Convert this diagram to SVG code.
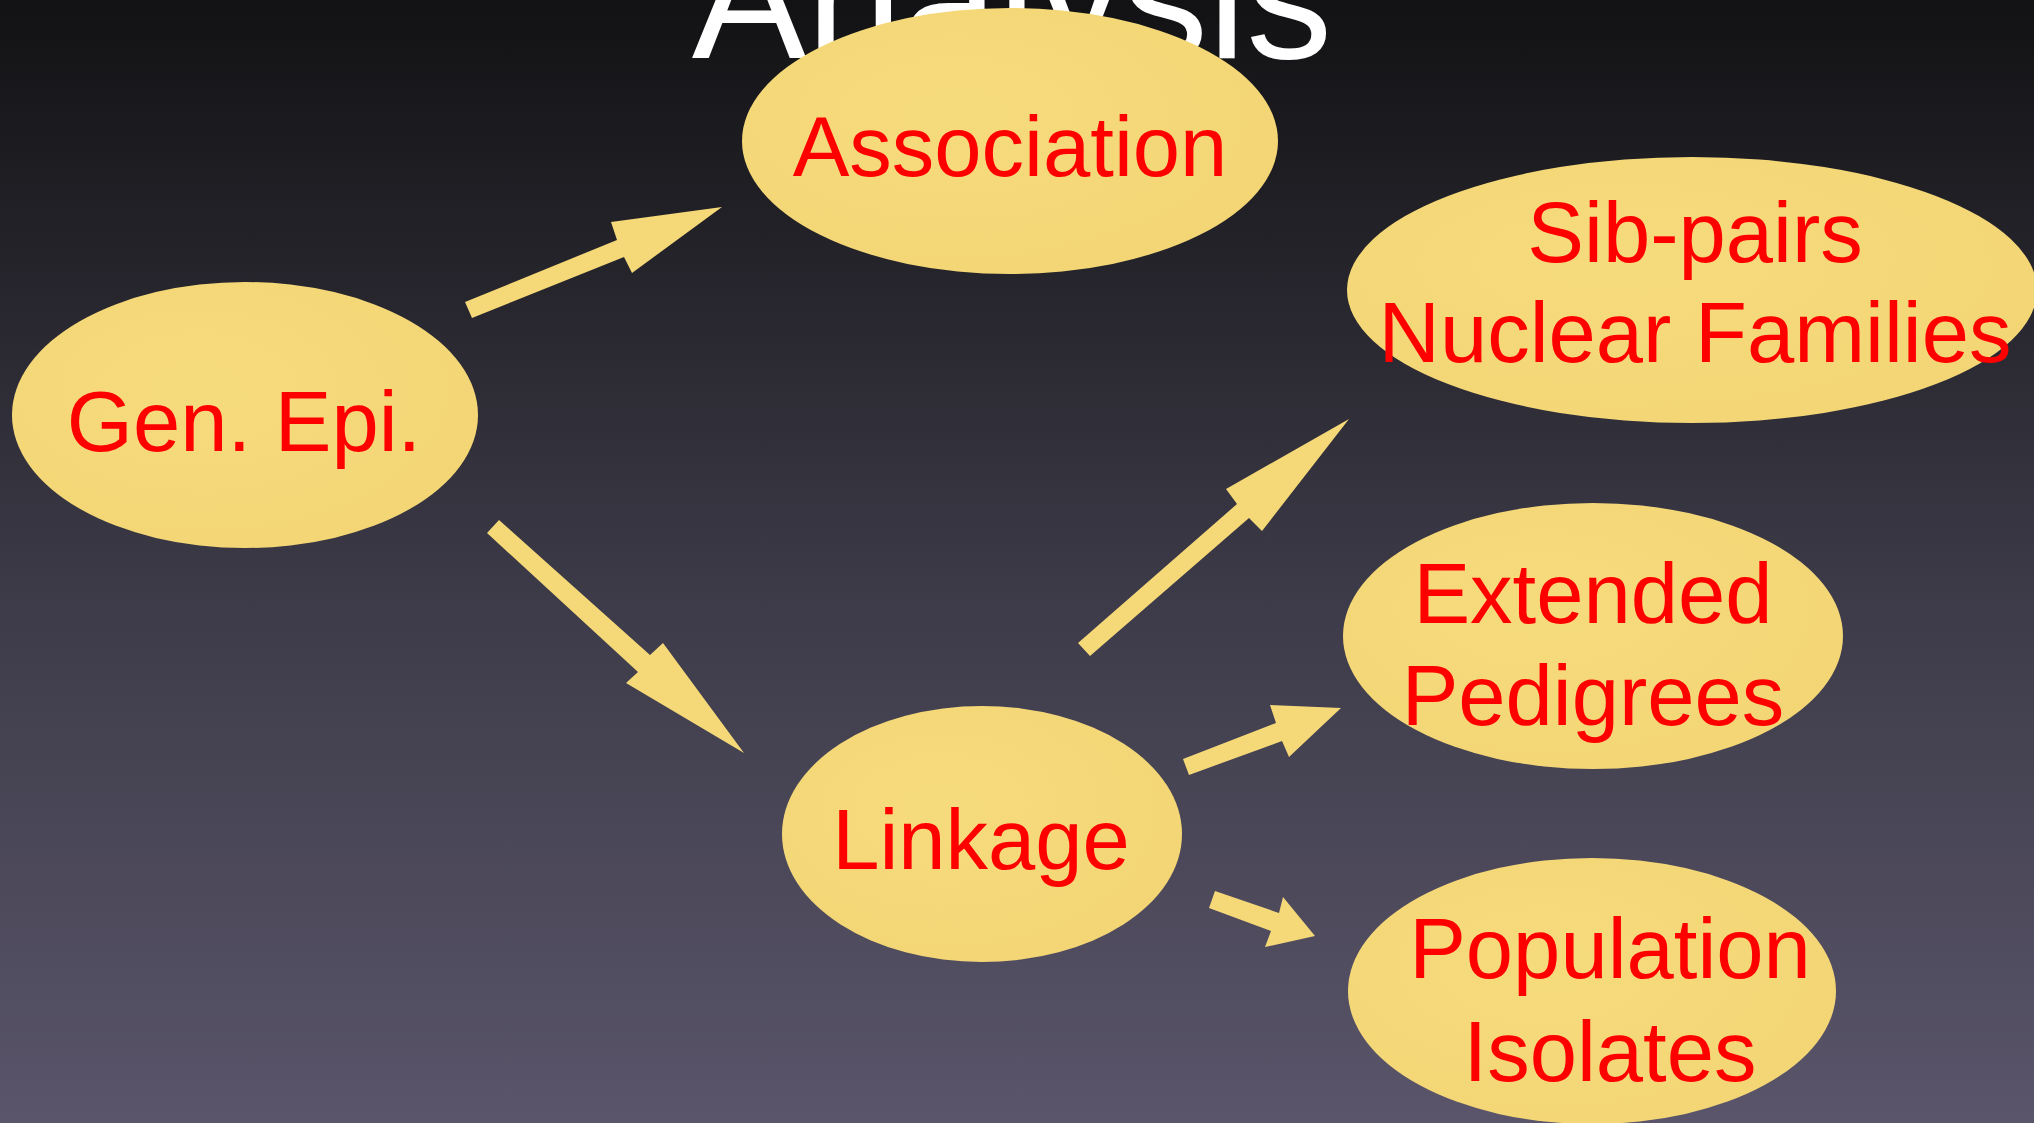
<svg xmlns="http://www.w3.org/2000/svg" width="2034" height="1123" viewBox="0 0 2034 1123">
  <defs>
    <linearGradient id="bg" x1="0" y1="0" x2="0" y2="1">
      <stop offset="0" stop-color="#121214"/>
      <stop offset="0.2" stop-color="#222127"/>
      <stop offset="0.55" stop-color="#3e3c4a"/>
      <stop offset="1" stop-color="#5a556a"/>
    </linearGradient>
    <radialGradient id="pad" cx="0.4" cy="0.4" r="0.7">
      <stop offset="0" stop-color="#f6db7d"/>
      <stop offset="1" stop-color="#f3d574"/>
    </radialGradient>
  </defs>
  <style>
    .node ellipse { fill: url(#pad); }
    .label { font-family: "Liberation Sans", Arial, sans-serif; font-size: 85px; fill: #ff0000; text-anchor: middle; }
    .title { font-family: "Liberation Sans", Arial, sans-serif; font-size: 172px; fill: #ffffff; text-anchor: middle; }
    .arrow { fill: #f5d878; }
  </style>

  <!-- backdrop -->
  <rect x="0" y="0" width="2034" height="1123" fill="url(#bg)"/>

  <!-- slide heading, partly tucked behind the top bubble -->
  <text class="title" x="1012" y="58">Analysis</text>

  <!-- block arrows -->
  <g id="connectors">
    <polygon class="arrow" points="465,302 617,240 611,222 722,207 632,273 624,257 472,318"/>
    <polygon class="arrow" points="499,520 650,655 663,643 744,753 626,683 638,672 487,533"/>
    <polygon class="arrow" points="1078,643 1237,504 1226,489 1349,419 1262,531 1249,518 1090,656"/>
    <polygon class="arrow" points="1183,759 1276,723 1270,705 1341,708 1289,757 1282,741 1189,775"/>
    <polygon class="arrow" points="1215,891 1279,913 1283,897 1315,936 1265,947 1271,931 1209,908"/>
  </g>

  <g id="gen-epi" class="node">
    <ellipse cx="245" cy="415" rx="233" ry="133"/>
    <text class="label" x="244" y="451">Gen. Epi.</text>
  </g>

  <g id="association" class="node">
    <ellipse cx="1010" cy="141" rx="268" ry="133"/>
    <text class="label" x="1010" y="176">Association</text>
  </g>

  <g id="sib-pairs" class="node">
    <ellipse cx="1692" cy="290" rx="345" ry="133"/>
    <text class="label" x="1695" y="262">Sib-pairs</text>
    <text class="label" x="1695" y="362">Nuclear Families</text>
  </g>

  <g id="extended-pedigrees" class="node">
    <ellipse cx="1593" cy="636" rx="250" ry="133"/>
    <text class="label" x="1593" y="623">Extended</text>
    <text class="label" x="1593" y="725">Pedigrees</text>
  </g>

  <g id="linkage" class="node">
    <ellipse cx="982" cy="834" rx="200" ry="128"/>
    <text class="label" x="981" y="869">Linkage</text>
  </g>

  <g id="population-isolates" class="node">
    <ellipse cx="1592" cy="991" rx="244" ry="133"/>
    <text class="label" x="1610" y="978">Population</text>
    <text class="label" x="1610" y="1081">Isolates</text>
  </g>
</svg>
